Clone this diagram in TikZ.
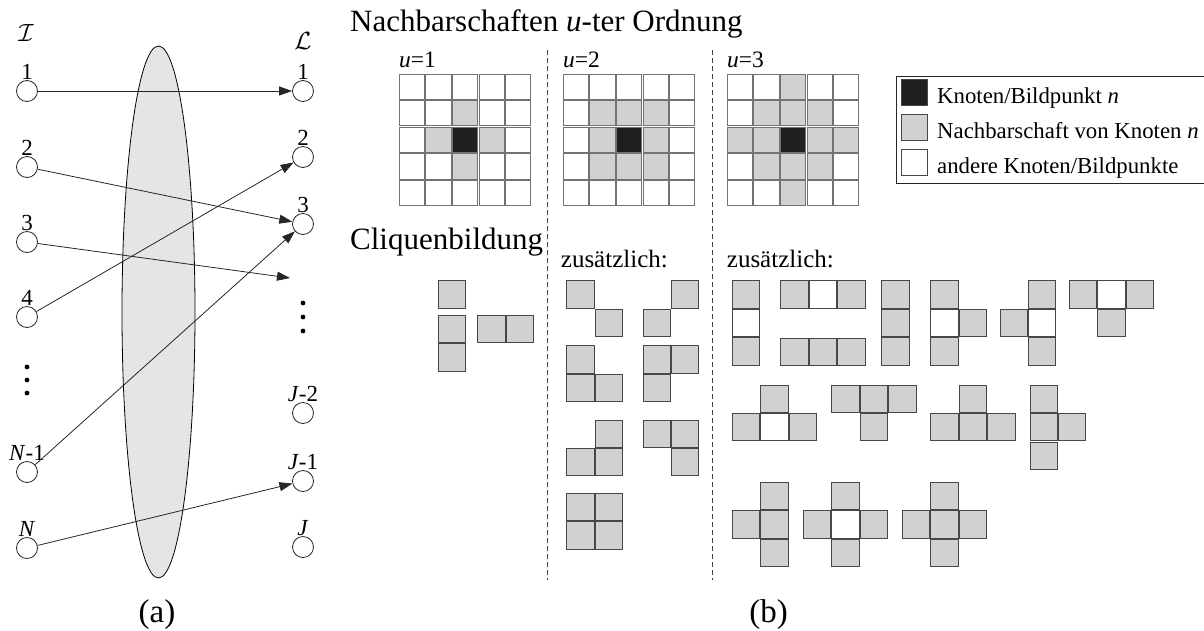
\documentclass[tikz,border=0pt]{standalone}
\usepackage{fontspec}
\setmainfont{Liberation Serif}
\usetikzlibrary{arrows.meta}

\colorlet{cg}{black!18}
\colorlet{ck}{black!88}
\colorlet{cw}{white}

\newcommand\bigtxt{\fontsize{31}{37}\selectfont}
\newcommand\labtxt{\fontsize{33}{40}\selectfont}
\newcommand\zustxt{\fontsize{25}{30}\selectfont}
\newcommand\smalltxt{\fontsize{23.5}{28}\selectfont}
\newcommand\legtxt{\fontsize{22.8}{27}\selectfont}
\newcommand\numtxt{\fontsize{23}{27}\selectfont}
\newcommand\caltxt{\fontsize{24.88}{30}\selectfont}

% 5x5 neighbourhood grid: #1,#2 = top left corner, #3 = list of col/row/fill
\newcommand\nbgrid[3]{%
  \foreach \i in {0,...,4}{\foreach \j in {0,...,4}{%
    \draw[gcell] ({#1+\i*26.6},{#2+\j*26.6}) rectangle ++(25.2,25.2);}}%
  \foreach \i/\j/\f in {#3}{%
    \filldraw[gcell,fill=\f] ({#1+\i*26.6},{#2+\j*26.6}) rectangle ++(25.2,25.2);}%
}
% clique made of squares: #1,#2 = top left corner, #3 = list of col/row/fill
\newcommand\clique[3]{%
  \foreach \i/\j/\f in {#3}{%
    \filldraw[ccell,fill=\f] ({#1+\i*28.5},{#2+\j*28.5}) rectangle ++(27.3,27.3);}%
}

\begin{document}
\begin{tikzpicture}[x=1pt,y=-1pt,
  gcell/.style={draw=black!55,line width=0.9pt},
  ccell/.style={draw=black!72,line width=0.9pt},
  pt/.style={circle,draw=black!85,line width=0.8pt,minimum size=21pt,inner sep=0pt,
    label distance=3pt},
  lbl/.style={font=\numtxt,inner sep=0pt},
  arr/.style={draw=black!85,line width=0.8pt,-{Triangle[length=13pt,width=9pt]}},
  sep/.style={draw=black!75,line width=0.8pt,dash pattern=on 5pt off 3pt},
]
\clip (0,0) rectangle (1204,630);

% ---------------- (a): mapping of sites to labels ----------------
\draw[fill=black!10,line width=0.8pt] (158.5,312) ellipse [x radius=36.5,y radius=266];

\node (calI) at (26,32.5) {\caltxt$\mathcal{I}$};
\node (calL) at (303,41) {\caltxt$\mathcal{L}$};

\node[pt,label={[lbl]above:1}] (I1) at (27,91) {};
\node[pt,label={[lbl]above:2}] (I2) at (27,167) {};
\node[pt,label={[lbl]above:3}] (I3) at (27,242) {};
\node[pt,label={[lbl]above:4}] (I4) at (27,317) {};
\node[pt,label={[lbl]above:\textit{N}-1}] (IN1) at (27,472) {};
\node[pt,label={[lbl]above:\textit{N}}] (IN) at (27,548) {};

\node[pt,label={[lbl]above:1}] (L1) at (303,91) {};
\node[pt,label={[lbl]above:2}] (L2) at (303,157) {};
\node[pt,label={[lbl]above:3}] (L3) at (303,224) {};
\node[pt,label={[lbl]above:\textit{J}-2}] (LJ2) at (303,413) {};
\node[pt,label={[lbl]above:\textit{J}-1}] (LJ1) at (303,481) {};
\node[pt,label={[lbl]above:\textit{J}}] (LJ) at (303,547) {};

\foreach \y in {367,380,393} \fill (27,\y) circle [radius=2.4];
\foreach \y in {303,317,331} \fill (303,\y) circle [radius=2.4];

\coordinate (dotsend) at (290,278);

\draw[arr] (I1) -- (L1);
\draw[arr] (I2) -- (L3);
\draw[arr] (I3) -- (dotsend);
\draw[arr] (I4) -- (L2);
\draw[arr] (IN1) -- (L3);
\draw[arr] (IN) -- (LJ1);

\node[font=\labtxt,anchor=base,inner sep=0pt] (capa) at (157,622) {(a)};

% ---------------- (b): neighbourhoods and cliques ----------------
\node[font=\bigtxt,anchor=base west,inner sep=0pt] (title) at (350,31) {Nachbarschaften \textit{u}-ter Ordnung};
\node[font=\bigtxt,anchor=base west,inner sep=0pt] (cliq) at (350,249) {Cliquenbildung};

\draw[sep] (547.7,50) -- (547.7,580);
\draw[sep] (712,50) -- (712,580);

\node[font=\smalltxt,anchor=base west,inner sep=0pt] (u1) at (399,67) {\textit{u}=1};
\node[font=\smalltxt,anchor=base west,inner sep=0pt] (u2) at (563,67) {\textit{u}=2};
\node[font=\smalltxt,anchor=base west,inner sep=0pt] (u3) at (727,67) {\textit{u}=3};

\nbgrid{399.3}{74}{2/1/cg,1/2/cg,3/2/cg,2/3/cg,2/2/ck}
\nbgrid{563.3}{74}{1/1/cg,2/1/cg,3/1/cg,1/2/cg,3/2/cg,1/3/cg,2/3/cg,3/3/cg,2/2/ck}
\nbgrid{727.3}{74}{2/0/cg,1/1/cg,2/1/cg,3/1/cg,0/2/cg,1/2/cg,3/2/cg,4/2/cg,1/3/cg,2/3/cg,3/3/cg,2/4/cg,2/2/ck}

% legend
\draw[line width=0.9pt,draw=black!85] (896,76) rectangle (1215,183);
\filldraw[ccell,fill=ck] (901,79) rectangle ++(26,26);
\filldraw[ccell,fill=cg] (901,114.5) rectangle ++(26,26);
\filldraw[ccell,fill=cw] (901,149.5) rectangle ++(26,26);
\node[font=\legtxt,anchor=base west,inner sep=0pt] (leg1) at (937,103.3) {Knoten/Bildpunkt \textit{n}};
\node[font=\legtxt,anchor=base west,inner sep=0pt] (leg2) at (937,138.3) {Nachbarschaft von Knoten \textit{n}};
\node[font=\legtxt,anchor=base west,inner sep=0pt] (leg3) at (937,173.3) {andere Knoten/Bildpunkte};

\node[font=\zustxt,anchor=base west,inner sep=0pt] (zus2) at (560.7,267) {zusätzlich:};
\node[font=\zustxt,anchor=base west,inner sep=0pt] (zus3) at (726.7,267) {zusätzlich:};

% cliques for u=1
\clique{438.3}{280.7}{0/0/cg}
\clique{438.3}{315.3}{0/0/cg,0/1/cg}
\clique{477.7}{315.3}{0/0/cg,1/0/cg}

% additional cliques for u=2
\clique{566.7}{280.7}{0/0/cg,1/1/cg}
\clique{643}{280.7}{1/0/cg,0/1/cg}
\clique{566.7}{345.7}{0/0/cg,0/1/cg,1/1/cg}
\clique{643}{345.7}{0/0/cg,1/0/cg,0/1/cg}
\clique{566.7}{420}{1/0/cg,0/1/cg,1/1/cg}
\clique{643}{420}{0/0/cg,1/0/cg,1/1/cg}
\clique{566.7}{493.3}{0/0/cg,1/0/cg,0/1/cg,1/1/cg}

% additional cliques for u=3
\clique{732.3}{280.7}{0/0/cg,0/1/cw,0/2/cg}
\clique{780.7}{280.7}{0/0/cg,1/0/cw,2/0/cg}
\clique{780.7}{338.5}{0/0/cg,1/0/cg,2/0/cg}
\clique{881.7}{280.7}{0/0/cg,0/1/cg,0/2/cg}
\clique{930.7}{280.7}{0/0/cg,0/1/cw,0/2/cg,1/1/cg}
\clique{1000}{280.7}{1/0/cg,1/1/cw,1/2/cg,0/1/cg}
\clique{1069.3}{280.7}{0/0/cg,1/0/cw,2/0/cg,1/1/cg}

\clique{732.3}{385}{1/0/cg,0/1/cg,1/1/cw,2/1/cg}
\clique{831.7}{385}{0/0/cg,1/0/cg,2/0/cg,1/1/cg}
\clique{930.7}{385}{1/0/cg,0/1/cg,1/1/cg,2/1/cg}
\clique{1030}{385}{0/0/cg,0/1/cg,0/2/cg,1/1/cg}

\clique{732.3}{482.3}{1/0/cg,0/1/cg,1/1/cg,1/2/cg}
\clique{803.3}{482.3}{1/0/cg,0/1/cg,1/1/cw,2/1/cg,1/2/cg}
\clique{902.3}{482.3}{1/0/cg,0/1/cg,1/1/cg,2/1/cg,1/2/cg}

\node[font=\labtxt,anchor=base,inner sep=0pt] (capb) at (768.5,622) {(b)};
\end{tikzpicture}
\end{document}
